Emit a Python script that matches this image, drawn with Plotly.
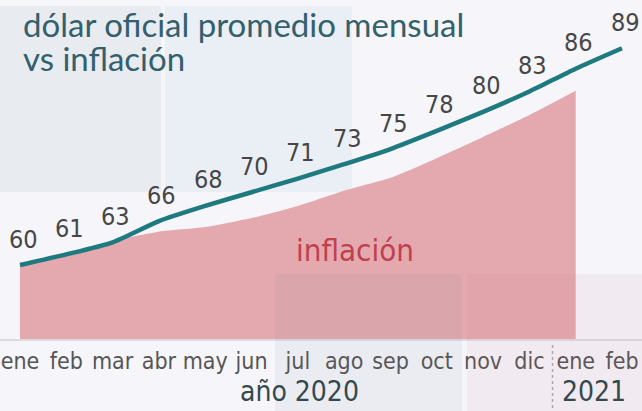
import plotly.graph_objects as go

# ---- data ----
months = ["ene", "feb", "mar", "abr", "may", "jun", "jul", "ago", "sep", "oct", "nov", "dic", "ene", "feb"]
years = ["año 2020", "2021"]
dolar = [60.0, 61.4, 63.0, 65.8, 67.8, 69.6, 71.4, 73.3, 75.3, 77.7, 80.2, 82.9, 85.9, 88.6]
inflacion = [60.0, 61.4, 63.2, 64.4, 65.0, 66.2, 67.8, 69.8, 71.5, 74.1, 76.9, 79.8, 83.0, None]
title_lines = ["dólar oficial promedio mensual", "vs inflación"]
area_label = "inflación"

x_idx = list(range(len(months)))

NUM_FONT = "DejaVu Sans Condensed, Roboto, sans-serif"
TITLE_FONT = "Lato, Open Sans, sans-serif"
BG = "#f5f5fa"

fig = go.Figure()

fig.add_trace(go.Scatter(
    x=x_idx, y=inflacion, mode="lines", fill="tozeroy",
    line=dict(width=0, shape="spline", smoothing=0.6),
    fillcolor="#e3a9af", hoverinfo="skip", showlegend=False,
))
fig.add_trace(go.Scatter(
    x=x_idx, y=dolar, mode="lines",
    line=dict(color="#1f7a80", width=4.5, shape="spline", smoothing=0.6),
    showlegend=False,
))

annotations = []
for i, v in enumerate(dolar):
    annotations.append(dict(
        x=i, y=v, xref="x", yref="y", text=f"{v:.0f}", showarrow=False,
        xanchor="center", yanchor="middle",
        xshift=3, yshift=26, font=dict(family=NUM_FONT, size=25, color="#464646"),
    ))

# title
for k, line in enumerate(title_lines):
    annotations.append(dict(x=21 / 642, y=1.0, xref="paper", yref="paper", xanchor="left", yanchor="top",
                            yshift=-2 - 34 * k, text=line, showarrow=False,
                            font=dict(family=TITLE_FONT, size=33, color="#33606c")))

# area label
annotations.append(dict(x=355 / 642, y=0.262, xref="paper", yref="paper", xanchor="center", yanchor="middle",
                        text=area_label, showarrow=False,
                        font=dict(family=NUM_FONT, size=31, color="#c0404f")))

# year labels
for txt, px in zip(years, [299, 594]):
    annotations.append(dict(x=px / 642, y=-0.156, xref="paper", yref="paper", xanchor="center", yanchor="middle",
                            text=txt, showarrow=False,
                            font=dict(family=NUM_FONT, size=28, color="#34494d")))

sep_x = months.index("ene", 1) - 0.5

shapes = [
    dict(type="rect", xref="paper", yref="paper", x0=0, x1=161 / 642, y0=0.4336, y1=0.9823,
         fillcolor="#e8ecf0", line=dict(width=0), layer="below"),
    dict(type="rect", xref="paper", yref="paper", x0=165 / 642, x1=352 / 642, y0=0.4336, y1=0.9823,
         fillcolor="#eaeff5", line=dict(width=0), layer="below"),
    dict(type="rect", xref="paper", yref="paper", x0=275 / 642, x1=462 / 642, y0=-0.2124, y1=0.1917,
         fillcolor="rgba(120,120,140,0.07)", line=dict(width=0), layer="above"),
    dict(type="rect", xref="paper", yref="paper", x0=467 / 642, x1=1.0, y0=-0.2124, y1=0.1917,
         fillcolor="rgba(200,100,120,0.07)", line=dict(width=0), layer="above"),
    dict(type="line", xref="x", yref="paper", x0=sep_x, x1=sep_x, y0=-0.018, y1=-0.2124,
         line=dict(color="#aaaaaa", width=1.5, dash="dot")),
]

ymin = 50.24
ymax = ymin + 339 / 7.58

fig.update_layout(
    width=642, height=411,
    margin=dict(l=0, r=0, t=0, b=72),
    paper_bgcolor=BG, plot_bgcolor=BG,
    xaxis=dict(range=[-0.432, 13.432], tickmode="array", tickvals=x_idx, ticktext=months,
               tickfont=dict(family=NUM_FONT, size=23, color="#555555"),
               ticklabeloverflow="allow",
               showgrid=False, zeroline=False, showline=True, linecolor="#dcdce0", linewidth=2,
               ticks="", fixedrange=True),
    yaxis=dict(range=[ymin, ymax], visible=False, fixedrange=True),
    annotations=annotations,
    shapes=shapes,
    showlegend=False,
)

fig.write_html("out.html", config={"displayModeBar": False},
               post_script="document.body.style.margin='0px';document.body.style.background='" + BG + "';")
